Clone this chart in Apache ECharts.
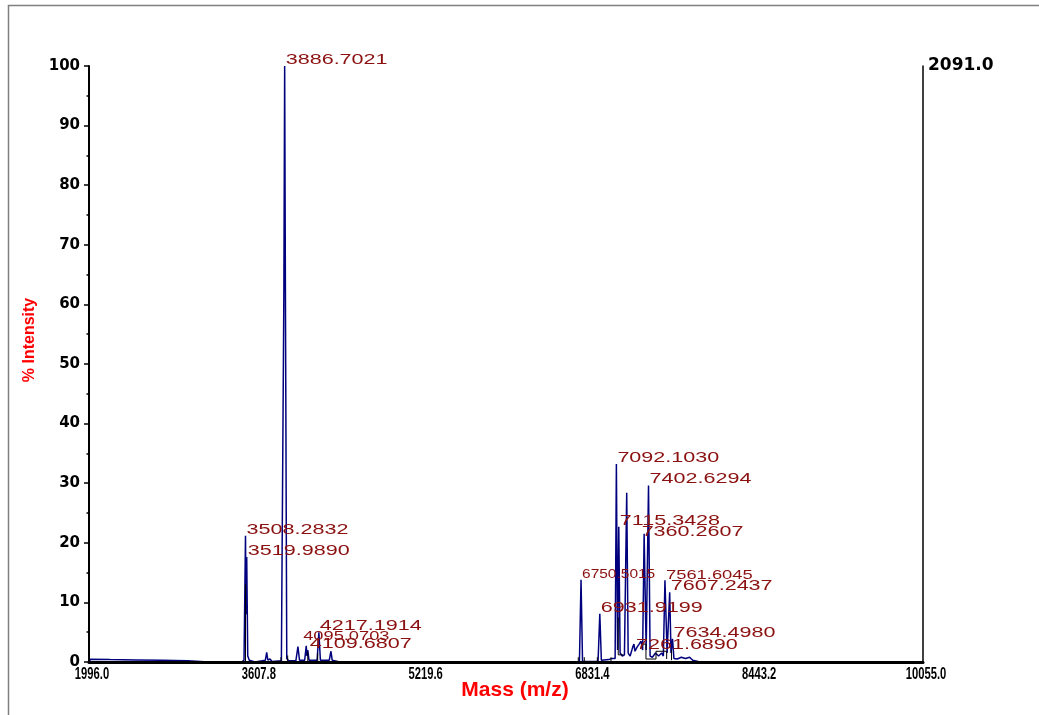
<!DOCTYPE html>
<html>
<head>
<meta charset="utf-8">
<title>Mass spectrum</title>
<script src="https://cdn.jsdelivr.net/npm/echarts@6/dist/echarts.min.js"></script>
<style>
  html, body { margin: 0; padding: 0; background: #ffffff; }
  #chart { width: 1039px; height: 715px; }
</style>
</head>
<body>
<div id="chart"></div>
<script>
// Mass axis tick values (m/z) and absolute intensity of the 100 % level
const massTicks = [1996.0, 3607.8, 5219.6, 6831.4, 8443.2, 10055.0];
const intensityFullScale = 2091.0;

// Labelled peaks: apex mass (m/z) and relative intensity (%)
const peakMasses = [3508.2832, 3519.9890, 3886.7021, 4095.0703, 4109.6807, 4217.1914,
  6750.5015, 6931.9199, 7092.1030, 7115.3428, 7261.6890, 7360.2607,
  7402.6294, 7561.6045, 7607.2437, 7634.4980];
const peakIntensities = [21.2, 17.6, 100, 2.7, 2.0, 5.0,
  13.8, 8.1, 33.2, 22.7, 3.0, 21.5,
  29.6, 13.7, 11.7, 3.9];

// Remaining profile points: baseline, shoulders and unlabelled peaks [m/z, %]
const profilePoints = [
  [1996, 0.0], [2010, 0.45], [2200, 0.4], [2450, 0.35], [2700, 0.3], [2950, 0.2],
  [3150, 0.0], [3470, 0.0], [3494, 0.3], [3513, 8.0], [3530, 1.0], [3545, 0.3],
  [3600, 0.0], [3700, 0.3], [3713, 1.6], [3724, 0.3], [3745, 0.5], [3765, 0.1],
  [3855, 0.2], [3866, 0.5], [3879, 62], [3894, 62], [3907, 0.6], [3925, 0.2],
  [3995, 0.2], [4015, 2.6], [4030, 0.3], [4080, 0.3], [4102, 1.0], [4122, 0.3],
  [4200, 0.3], [4232, 0.3], [4318, 0.3], [4327, 1.2], [4334, 1.8], [4346, 0.3],
  [4420, 0.0], [6735, 0.0], [6765, 0.1],
  [6915, 0.1], [6947, 0.3], [7020, 0.4], [7050, 0.6], [7080, 0.6], [7104, 2.0],
  [7128, 1.5], [7150, 1.0], [7170, 1.2], [7192, 28.4], [7206, 1.5], [7225, 1.0],
  [7242, 2.0], [7252, 2.6], [7272, 1.8], [7292, 2.5], [7312, 3.0], [7330, 3.5],
  [7346, 2.0], [7380, 2.0], [7418, 1.0], [7440, 0.8], [7470, 1.5], [7500, 1.0],
  [7530, 1.5], [7546, 1.0], [7582, 1.5], [7620, 1.5], [7648, 0.6], [7680, 0.5],
  [7720, 0.8], [7760, 0.6], [7800, 0.8], [7830, 0.3], [7900, 0.0],
  [10055, 0.0]
];

// Centroid and integration traces drawn in black [m/z, %]
const centroidTraces = [
  [[3508.3, 0], [3508.3, 13.0]],
  [[3851, 0], [3851, 0.8]],
  [[3916, 0], [3916, 1.1]],
  [[4110, 0], [4110, 1.8]],
  [[4206, 0], [4206, 1.5]],
  [[6724, 0], [6724, 0.8]],
  [[6782, 0], [6782, 0.8]],
  [[6908, 0], [6908, 0.8]],
  [[7040, 0], [7040, 0.8]],
  [[7110, 7.5], [7110, 1.2], [7160, 1.2]],
  [[7340, 3.0], [7378, 3.0], [7378, 0.5], [7475, 0.5], [7475, 1.8], [7578, 1.8], [7578, 0.5]],
  [[7625, 0.3], [7625, 2.0]]
];

// Per-label text styling (font size, horizontal stretch, pixel nudge)
const labelLook = {
  base: { size: 14, stretch: 1.54, dx: 1, dy: 1 },
  '4095.0703': { size: 12, stretch: 1.52, dx: -3, dy: -3 },
  '4109.6807': { dx: 2 },
  '6750.5015': { size: 12, stretch: 1.29 },
  '7561.6045': { size: 12, stretch: 1.53 },
  '7360.2607': { dx: -2.5, dy: 5 },
  '7261.6890': { dx: 2, dy: 8 }
};

const peakApexes = peakMasses.map((m, i) => [m, peakIntensities[i]]);
const spectrum = profilePoints.concat(peakApexes).sort((a, b) => a[0] - b[0]);
const labelData = peakMasses.map((m, i) => [m, peakIntensities[i], i]);
const massTickData = massTicks.map(m => [m, 0]);

const chart = echarts.init(document.getElementById('chart'), null, { renderer: 'canvas' });

const tickFont = { fontFamily: 'DejaVu Sans', fontWeight: 'bold', color: '#000' };

chart.setOption({
  animation: false,
  backgroundColor: '#ffffff',
  graphic: [{
    type: 'rect', left: 6, top: 3, z: -10, silent: true,
    shape: { width: 1200, height: 900 },
    style: { fill: 'none', stroke: '#7f7f7f', lineWidth: 1.5 }
  }],
  grid: { left: 89, right: 116, top: 66, bottom: 53, containLabel: false },
  xAxis: {
    type: 'value',
    z: 5,
    min: massTicks[0],
    max: massTicks[massTicks.length - 1],
    name: 'Mass (m/z)',
    nameLocation: 'middle',
    nameGap: 18,
    nameTextStyle: { color: '#ff0000', fontFamily: 'Liberation Sans', fontWeight: 'bold', fontSize: 21, padding: [0, 0, 0, 18] },
    axisLine: { show: true, onZero: false, lineStyle: { color: '#000', width: 3 } },
    axisTick: { show: false },
    splitLine: { show: false },
    axisLabel: { show: false }
  },
  yAxis: [{
    type: 'value',
    z: 5,
    min: 0, max: 100, interval: 10,
    name: '% Intensity',
    nameLocation: 'middle',
    nameGap: 49,
    nameTextStyle: { color: '#ff0000', fontFamily: 'Liberation Sans', fontWeight: 'bold', fontSize: 16, padding: [0, 0, 0, 48] },
    axisLine: { show: true, lineStyle: { color: '#000', width: 2 } },
    axisTick: { show: true, length: 5, lineStyle: { color: '#000', width: 1.5 } },
    minorTick: { show: true, splitNumber: 2, length: 2.5, lineStyle: { color: '#000', width: 1.5 } },
    splitLine: { show: false },
    axisLabel: Object.assign({ fontSize: 15, margin: 9 }, tickFont)
  }, {
    type: 'value',
    position: 'right',
    min: 0, max: intensityFullScale,
    axisLine: { show: true, lineStyle: { color: '#000', width: 1.5 } },
    axisTick: { show: false, customValues: [intensityFullScale] },
    splitLine: { show: false },
    axisLabel: Object.assign({
      customValues: [intensityFullScale],
      formatter: v => v.toFixed(1),
      fontSize: 17, margin: 5, padding: [5, 0, 0, 0]
    }, tickFont)
  }],
  series: [{
    type: 'line',
    name: 'profile',
    data: spectrum,
    showSymbol: false,
    symbol: 'none',
    sampling: null,
    lineStyle: { color: '#00007f', width: 1.5 },
    z: 2
  }, {
    type: 'lines',
    coordinateSystem: 'cartesian2d',
    polyline: true,
    data: centroidTraces.map(c => ({ coords: c })),
    lineStyle: { color: '#000', width: 1, opacity: 1 },
    silent: true,
    z: 3
  }, {
    // condensed mass tick labels under the axis
    type: 'custom',
    name: 'mass ticks',
    data: massTickData,
    encode: { x: 0, y: 1 },
    clip: false,
    silent: true,
    z: 4,
    renderItem: function (params, api) {
      const pt = api.coord([api.value(0), api.value(1)]);
      return {
        type: 'text',
        x: pt[0] + 3,
        y: pt[1] + 5,
        scaleX: 0.7,
        style: {
          text: api.value(0).toFixed(1),
          fill: '#000',
          font: 'bold 16px "Liberation Sans", Arial, sans-serif',
          align: 'center',
          verticalAlign: 'top'
        }
      };
    }
  }, {
    type: 'custom',
    name: 'peak labels',
    data: labelData,
    encode: { x: 0, y: 1 },
    clip: false,
    silent: true,
    z: 4,
    renderItem: function (params, api) {
      const idx = api.value(2);
      const text = peakMasses[idx].toFixed(4);
      const look = Object.assign({}, labelLook.base, labelLook[text] || {});
      const pt = api.coord([api.value(0), api.value(1)]);
      return {
        type: 'text',
        x: pt[0] + look.dx,
        y: pt[1] + look.dy,
        scaleX: look.stretch,
        style: {
          text: text,
          fill: '#8b1010',
          font: look.size + 'px "Liberation Sans", Arial, sans-serif',
          align: 'left',
          verticalAlign: 'bottom'
        }
      };
    }
  }]
});
</script>
</body>
</html>
